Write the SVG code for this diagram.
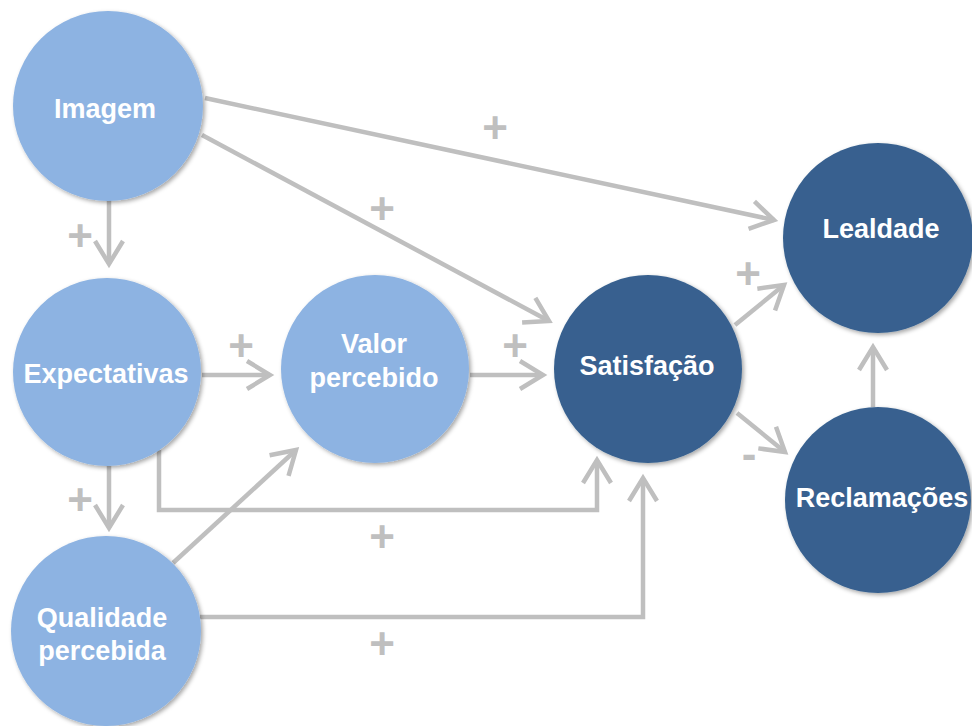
<svg xmlns="http://www.w3.org/2000/svg" width="972" height="726" viewBox="0 0 972 726">
<style>
.c{stroke:#bfbfbf;stroke-width:4.5;fill:none;marker-end:url(#ah)}
.lb{fill:#bfbfbf;font-family:"Liberation Sans",Arial,sans-serif;font-weight:bold;font-size:44px;text-anchor:middle}
.t{fill:#ffffff;font-family:"Liberation Sans",Arial,sans-serif;font-weight:bold;font-size:27px;text-anchor:middle}
.light{fill:#8db3e2;filter:url(#sh)}
.dark{fill:#37618f;filter:url(#sh)}
</style>
<defs>
<marker id="ah" markerUnits="userSpaceOnUse" markerWidth="40" markerHeight="40" viewBox="-30 -20 40 40" refX="0" refY="0" orient="auto">
<path d="M-23,-14 L0,0 L-23,14" fill="none" stroke="#bfbfbf" stroke-width="4.5" stroke-linejoin="miter"/>
</marker>
<filter id="sh" x="-20%" y="-20%" width="140%" height="140%">
<feDropShadow dx="2" dy="2" stdDeviation="2" flood-color="#000" flood-opacity="0.35"/>
</filter>
</defs>
<rect width="972" height="726" fill="#ffffff"/>
<g id="connectors">
<line class="c" x1="205" y1="98" x2="774" y2="220"/>
<line class="c" x1="202" y1="135" x2="549" y2="321"/>
<line class="c" x1="109" y1="200" x2="109" y2="264"/>
<line class="c" x1="202" y1="375" x2="270" y2="375"/>
<line class="c" x1="470" y1="375" x2="543" y2="375"/>
<line class="c" x1="109" y1="466" x2="109" y2="528"/>
<polyline class="c" points="159,450 159,510 597,510 597,460"/>
<line class="c" x1="173" y1="563" x2="296" y2="450"/>
<polyline class="c" points="200,617 643,617 643,478"/>
<line class="c" x1="735" y1="325" x2="784" y2="285"/>
<line class="c" x1="737" y1="413" x2="785" y2="452"/>
<line class="c" x1="873" y1="407" x2="873" y2="347"/>
<text class="lb" x="495" y="143">+</text>
<text class="lb" x="382" y="224">+</text>
<text class="lb" x="80" y="251">+</text>
<text class="lb" x="241" y="361">+</text>
<text class="lb" x="515" y="361">+</text>
<text class="lb" x="80" y="515">+</text>
<text class="lb" x="382" y="552">+</text>
<text class="lb" x="382" y="659">+</text>
<text class="lb" x="748" y="289">+</text>
<text class="lb" x="749" y="469">-</text>
</g>
<g id="imagem">
<circle class="light" cx="108" cy="106" r="95"/>
<text class="t" x="105" y="118">Imagem</text>
</g>
<g id="expectativas">
<circle class="light" cx="107" cy="372" r="94"/>
<text class="t" x="106" y="383">Expectativas</text>
</g>
<g id="qualidade">
<circle class="light" cx="106" cy="631" r="95"/>
<text class="t" x="102" y="627">Qualidade</text>
<text class="t" x="102" y="660">percebida</text>
</g>
<g id="valor">
<circle class="light" cx="375" cy="369" r="94"/>
<text class="t" x="374" y="353">Valor</text>
<text class="t" x="374" y="387">percebido</text>
</g>
<g id="satisfacao">
<circle class="dark" cx="648" cy="369" r="94"/>
<text class="t" x="647" y="375">Satisfação</text>
</g>
<g id="lealdade">
<circle class="dark" cx="878" cy="238" r="95"/>
<text class="t" x="881" y="238">Lealdade</text>
</g>
<g id="reclamacoes">
<circle class="dark" cx="878" cy="500" r="93"/>
<text class="t" x="882" y="507">Reclamações</text>
</g>
</svg>
